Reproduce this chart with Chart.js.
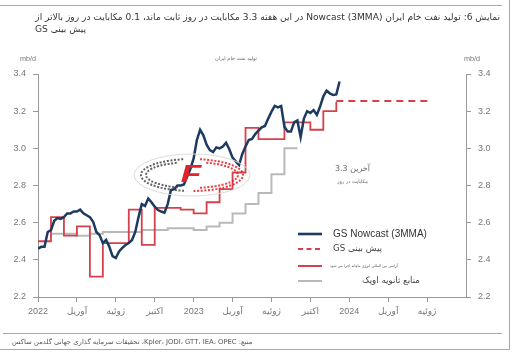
<!DOCTYPE html>
<html><head><meta charset="utf-8">
<script src="https://cdn.jsdelivr.net/npm/chart.js@4.4.1/dist/chart.umd.min.js"></script>
<style>html,body{margin:0;padding:0;background:#fff;}canvas{display:block;}</style>
</head><body>
<canvas id="c" width="520" height="352"></canvas>
<script>
// ---------- texts ----------
const titleLine1 = 'نمایش 6: تولید نفت خام ایران (Nowcast (3MMA در این هفته 3.3 مکابایت در روز ثابت ماند، 0.1 مکابایت در روز بالاتر از';
const titleLine2 = 'پیش بینی GS';
const innerTitle = 'تولید نفت خام ایران';
const unitLabel = 'mb/d';
const sourceText = 'منبع: Kpler، JODI، GTT، IEA، OPEC، تحقیقات سرمایه گذاری جهانی گلدمن ساکس';
const annotationLines = ['آخرین 3.3', 'مکابایت در روز'];
const seriesNames = ['GS Nowcast (3MMA)', 'پیش بینی GS', 'آژانس بین المللی انرژی ماهانه اجرا می شود', 'منابع ثانویه اوپک'];

// ---------- axis ticks (x = months since Jan 2022) ----------
const xTickMonths = [0, 3, 6, 9, 12, 15, 18, 21, 24, 27, 30];
const xTickLabels = ['2022', 'آوریل', 'ژوئیه', 'اکتبر', '2023', 'آوریل', 'ژوئیه', 'اکتبر', '2024', 'آوریل', 'ژوئیه'];
const yTicks = [2.2, 2.4, 2.6, 2.8, 3.0, 3.2, 3.4];

// ---------- series ----------
// GS Nowcast, sampled every quarter month starting Jan 2022
const nowcastStepMonths = 0.25;
const nowcastValues = [2.46,2.47,2.47,2.55, 2.56,2.61,2.625,2.62, 2.63,2.65,2.65,2.66, 2.66,2.67,2.65,2.64,
  2.63,2.605,2.55,2.533, 2.49,2.507,2.47,2.42, 2.41,2.445,2.464,2.48, 2.49,2.507,2.55,2.63,
  2.70,2.69,2.73,2.71, 2.686,2.668,2.66,2.654, 2.70,2.776,2.78,2.80, 2.80,2.806,2.847,2.89,
  2.946,3.045,3.10,3.07, 3.02,2.99,2.98,3.005, 3.00,3.01,3.03,2.995, 2.95,2.93,2.91,2.97,
  3.01,3.045,3.05,3.077, 3.095,3.113,3.12,3.16, 3.197,3.228,3.22,3.228, 3.116,3.09,3.09,3.14,
  3.15,3.06,3.16,3.20, 3.19,3.206,3.18,3.225, 3.28,3.31,3.296,3.287, 3.29,3.36];
// IEA monthly (step)
const ieaMonths = [0,1,2,3,4,5,6,7,8,9,10,11,12,13,14,15,16,17,18,19,20,21,22,23];
const ieaValues = [2.50,2.63,2.53,2.58,2.31,2.49,2.49,2.67,2.48,2.68,2.68,2.67,2.65,2.71,2.78,2.87,3.11,3.05,3.05,3.14,3.14,3.10,3.20,3.25];
// OPEC secondary sources monthly (step)
const opecMonths = [1,2,3,4,5,6,7,8,9,10,11,12,13,14,15,16,17,18,19,20];
const opecValues = [2.54,2.54,2.53,2.54,2.55,2.55,2.55,2.56,2.56,2.57,2.57,2.56,2.58,2.60,2.65,2.70,2.76,2.86,3.00,3.00];
// GS forecast (dashed)
const forecastMonths = [23, 30.2];
const forecastValues = [3.255, 3.255];

const pts = (xs, ys) => xs.map((x, i) => ({x, y: ys[i]}));
const nowcastPts = nowcastValues.map((v, i) => ({x: i * nowcastStepMonths, y: v}));

const C_NAVY = '#1d3a60', C_RED = '#d4414a', C_GRAY = '#b9b9b9';
const FONT_LAT = "'Liberation Sans', Arial, sans-serif";
const FONT_FA = "'DejaVu Sans', 'Liberation Sans', sans-serif";

function fitText(ctx, text, x, y, width, family, align, rtl) {
  ctx.font = '10px ' + family;
  const w = ctx.measureText(text).width;
  const size = 10 * width / w;
  ctx.font = size.toFixed(2) + 'px ' + family;
  ctx.direction = rtl ? 'rtl' : 'ltr';
  ctx.textAlign = align;
  ctx.textBaseline = 'middle';
  const ax = align === 'left' ? x : (align === 'right' ? x + width : x + width / 2);
  ctx.fillText(text, ax, y);
}

const decor = {
  id: 'decor',
  afterDatasetsDraw(chart) {
    const ctx = chart.ctx;
    ctx.save();
    const cx = 192, cy = 175, rx = 58, ry = 21;
    ctx.strokeStyle = '#dcdcdc'; ctx.lineWidth = 1;
    ctx.beginPath(); ctx.ellipse(cx, cy, rx, ry, 0, 0, Math.PI * 2); ctx.stroke();
    ctx.setLineDash([2, 1.6]); ctx.lineWidth = 2;
    ctx.strokeStyle = 'rgba(60,60,60,0.8)';
    ctx.beginPath(); ctx.ellipse(cx, cy, rx - 7, ry - 5, 0, Math.PI * 0.55, Math.PI * 1.45); ctx.stroke();
    ctx.beginPath(); ctx.ellipse(cx, cy, rx - 12, ry - 8, 0, Math.PI * 0.6, Math.PI * 1.4); ctx.stroke();
    ctx.strokeStyle = 'rgba(225,30,40,0.85)';
    ctx.beginPath(); ctx.ellipse(cx, cy, rx - 7, ry - 5, 0, -Math.PI * 0.45, Math.PI * 0.5); ctx.stroke();
    ctx.beginPath(); ctx.ellipse(cx, cy, rx - 12, ry - 8, 0, -Math.PI * 0.4, Math.PI * 0.45); ctx.stroke();
    ctx.setLineDash([]);
    ctx.translate(191, 175);
    ctx.scale(1.4, 1);
    ctx.fillStyle = '#e3232c';
    ctx.font = "italic bold 24px 'Liberation Sans', sans-serif";
    ctx.textAlign = 'center'; ctx.textBaseline = 'middle';
    ctx.fillText('F', 0, 0);
    ctx.restore();
  },
  afterDraw(chart) {
    const ctx = chart.ctx;
    ctx.save();
    // frame
    ctx.strokeStyle = '#a8a8a8'; ctx.lineWidth = 1;
    ctx.beginPath();
    ctx.moveTo(0, 5.5); ctx.lineTo(502, 5.5);
    ctx.moveTo(3, 333.5); ctx.lineTo(502, 333.5);
    ctx.moveTo(509.5, 0); ctx.lineTo(509.5, 349.5); ctx.lineTo(0, 349.5);
    ctx.stroke();
    // titles
    ctx.fillStyle = '#333';
    fitText(ctx, titleLine1, 35, 18, 465, FONT_FA, 'right', true);
    ctx.direction = 'rtl'; ctx.textAlign = 'left'; ctx.textBaseline = 'middle';
    ctx.fillText(titleLine2, 35, 30);
    // inner title and units
    ctx.fillStyle = '#666';
    fitText(ctx, innerTitle, 215, 59, 42, FONT_FA, 'center', true);
    ctx.fillStyle = '#777';
    fitText(ctx, unitLabel, 20, 59, 16, FONT_LAT, 'center', false);
    fitText(ctx, unitLabel, 464, 59, 16, FONT_LAT, 'center', false);
    // annotation
    ctx.fillStyle = '#666';
    fitText(ctx, annotationLines[0], 335, 169, 35, FONT_FA, 'center', true);
    fitText(ctx, annotationLines[1], 337, 182, 31, FONT_FA, 'center', true);
    // legend
    const rows = [
      {y: 234, color: C_NAVY, w: 2.6, dash: [], tx: 333, tw: 94, rtl: false, fam: FONT_LAT, tc: '#333'},
      {y: 249, color: C_RED, w: 2, dash: [5, 3.5], tx: 333, tw: 49, rtl: true, fam: FONT_FA, tc: '#444'},
      {y: 266, color: C_RED, w: 2, dash: [], tx: 330, tw: 68, rtl: true, fam: FONT_FA, tc: '#555'},
      {y: 281, color: C_GRAY, w: 2, dash: [], tx: 362, tw: 58, rtl: true, fam: FONT_FA, tc: '#444'}
    ];
    rows.forEach((r, i) => {
      ctx.strokeStyle = r.color; ctx.lineWidth = r.w; ctx.setLineDash(r.dash);
      ctx.beginPath(); ctx.moveTo(298, r.y); ctx.lineTo(322, r.y); ctx.stroke();
      ctx.setLineDash([]);
      ctx.fillStyle = r.tc;
      fitText(ctx, seriesNames[i], r.tx, r.y, r.tw, r.fam, 'left', r.rtl);
    });
    // source
    ctx.fillStyle = '#555';
    fitText(ctx, sourceText, 12, 342, 241, FONT_FA, 'left', true);
    ctx.restore();
  }
};

Chart.defaults.font.family = FONT_LAT;

const axisCommon = {
  min: 2.2, max: 3.4,
  afterBuildTicks(s) { s.ticks = yTicks.map(v => ({value: v})); },
  ticks: {callback: v => Number(v).toFixed(1), color: '#777', font: {size: 9}, padding: 7},
  grid: {drawOnChartArea: false, tickLength: 5, color: '#999'},
  border: {color: '#999'}
};

new Chart(document.getElementById('c').getContext('2d'), {
  type: 'line',
  data: {
    datasets: [
      {label: seriesNames[3], data: pts(opecMonths, opecValues), borderColor: C_GRAY, borderWidth: 2, stepped: true, pointRadius: 0, order: 3},
      {label: seriesNames[2], data: pts(ieaMonths, ieaValues), borderColor: C_RED, borderWidth: 1.8, stepped: true, pointRadius: 0, order: 2},
      {label: seriesNames[1], data: pts(forecastMonths, forecastValues), borderColor: C_RED, borderWidth: 2, borderDash: [7, 5], pointRadius: 0, order: 1},
      {label: seriesNames[0], data: nowcastPts, borderColor: C_NAVY, borderWidth: 2.5, pointRadius: 0, tension: 0, order: 0}
    ]
  },
  options: {
    responsive: false, animation: false, devicePixelRatio: 1,
    layout: {padding: {top: 74, left: 0, right: 0, bottom: 0}},
    plugins: {legend: {display: false}, tooltip: {enabled: false}, title: {display: false}},
    scales: {
      x: {
        type: 'linear', min: 0, max: 33,
        afterBuildTicks(s) { s.ticks = xTickMonths.map(v => ({value: v})); },
        afterFit(s) { s.height = 55; },
        ticks: {
          autoSkip: false, maxRotation: 0, color: '#777', padding: 4,
          font: {size: 9, family: "'Liberation Sans', 'DejaVu Sans', sans-serif"},
          callback: v => { const i = xTickMonths.indexOf(v); return i >= 0 ? xTickLabels[i] : ''; }
        },
        grid: {drawOnChartArea: false, tickLength: 5, color: '#999'},
        border: {color: '#999'}
      },
      y: Object.assign({position: 'left', afterFit(s) { s.width = 38; }}, axisCommon),
      y2: Object.assign({position: 'right', afterFit(s) { s.width = 54; }}, axisCommon)
    }
  },
  plugins: [decor]
});
</script>
</body></html>
